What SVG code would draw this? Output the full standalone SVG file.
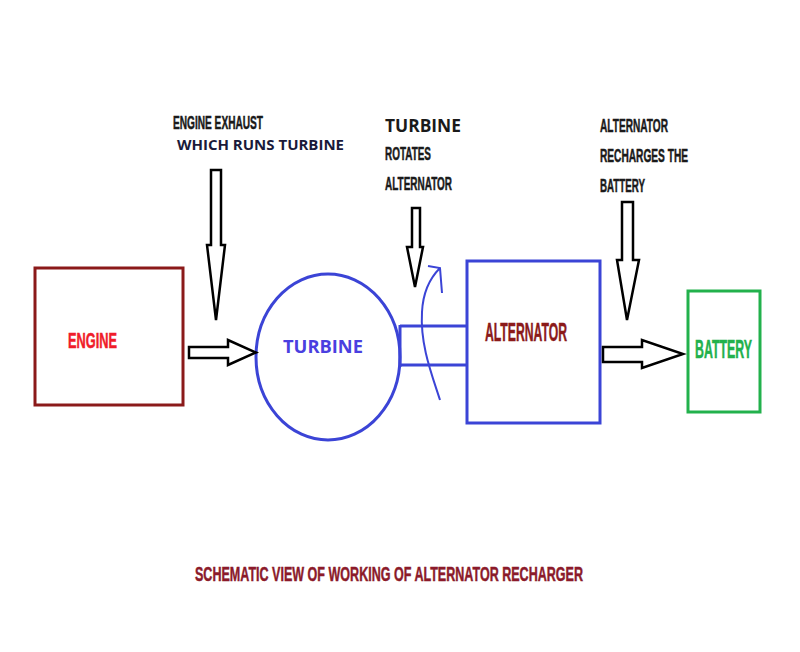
<svg xmlns="http://www.w3.org/2000/svg" width="800" height="652" viewBox="0 0 800 652">
<style>
.cond{font-family:"Liberation Sans",Arial,sans-serif;font-weight:bold;stroke-width:0.5}
.lbl{font-size:18px;fill:#1a1a1a;stroke:#1a1a1a}
.arr{fill:#fff;stroke:#000;stroke-width:2.5;stroke-linejoin:miter}
.blue{fill:none;stroke:#3b44d6;stroke-width:3}
</style>
<rect width="800" height="652" fill="#fff"/>
<g id="engine">
<rect x="35" y="268" width="148" height="137" fill="none" stroke="#8b1a1a" stroke-width="3"/>
<text class="cond" x="68" y="348" font-size="22" fill="#f01c2a" stroke="#f01c2a" textLength="49" lengthAdjust="spacingAndGlyphs">ENGINE</text>
</g>
<g id="turbine">
<ellipse cx="328" cy="357" rx="72" ry="83" class="blue"/>
<text x="283" y="353" font-family="'Open Sans','Liberation Sans',sans-serif" font-weight="bold" font-size="18" fill="#4a3fe0" textLength="80" lengthAdjust="spacingAndGlyphs">TURBINE</text>
</g>
<g id="shaft">
<path d="M400 326 H467 M400 365 H467 M400 325 V367" class="blue"/>
<path d="M440 400 C432 375 420 345 422 312 C423 292 430 278 440 268 M428 266 L440 268 L442 293" fill="none" stroke="#3b44d6" stroke-width="2"/>
</g>
<g id="alternator">
<rect x="467" y="261" width="133" height="162" class="blue"/>
<text class="cond" x="485" y="341" font-size="25" fill="#8b1a1a" stroke="#8b1a1a" textLength="82" lengthAdjust="spacingAndGlyphs">ALTERNATOR</text>
</g>
<g id="battery">
<rect x="688" y="291" width="72" height="121" fill="none" stroke="#22b14c" stroke-width="3"/>
<text class="cond" x="695" y="358" font-size="25" fill="#22b14c" stroke="#22b14c" textLength="57" lengthAdjust="spacingAndGlyphs">BATTERY</text>
</g>
<g id="connectors">
<polygon class="arr" points="189,347 228,347 228,340 256,352.5 228,365 228,358 189,358"/>
<polygon class="arr" points="603,347 642,347 642,340 683,354 642,368 642,362 603,362"/>
<polygon class="arr" points="211,170 221,170 221,245 225,245 216,320 207,245 211,245"/>
<polygon class="arr" points="412,208 420,208 420,247 423,247 415,287 407,247 412,247"/>
<polygon class="arr" points="622,202 633,202 633,260 639,260 627,320 617,260 622,260"/>
</g>
<g id="labels">
<text class="cond lbl" x="173" y="129" font-size="17" textLength="90" lengthAdjust="spacingAndGlyphs">ENGINE EXHAUST</text>
<text x="177" y="150" font-family="'Open Sans','Liberation Sans',sans-serif" font-weight="bold" font-size="15" fill="#1a1a3a" textLength="167" lengthAdjust="spacingAndGlyphs">WHICH RUNS TURBINE</text>
<text x="385" y="132" font-family="'Open Sans','Liberation Sans',sans-serif" font-weight="bold" font-size="17" fill="#1a1a1a" textLength="76" lengthAdjust="spacingAndGlyphs">TURBINE</text>
<text class="cond lbl" x="385" y="160" textLength="46" lengthAdjust="spacingAndGlyphs">ROTATES</text>
<text class="cond lbl" x="385" y="190" textLength="67" lengthAdjust="spacingAndGlyphs">ALTERNATOR</text>
<text class="cond lbl" x="600" y="132" textLength="68" lengthAdjust="spacingAndGlyphs">ALTERNATOR</text>
<text class="cond lbl" x="600" y="162" textLength="88" lengthAdjust="spacingAndGlyphs">RECHARGES THE</text>
<text class="cond lbl" x="600" y="192" textLength="45" lengthAdjust="spacingAndGlyphs">BATTERY</text>
<text class="cond" x="195" y="581" font-size="21" fill="#8b1a2a" stroke="#8b1a2a" textLength="388" lengthAdjust="spacingAndGlyphs">SCHEMATIC VIEW OF WORKING OF ALTERNATOR RECHARGER</text>
</g>
</svg>
